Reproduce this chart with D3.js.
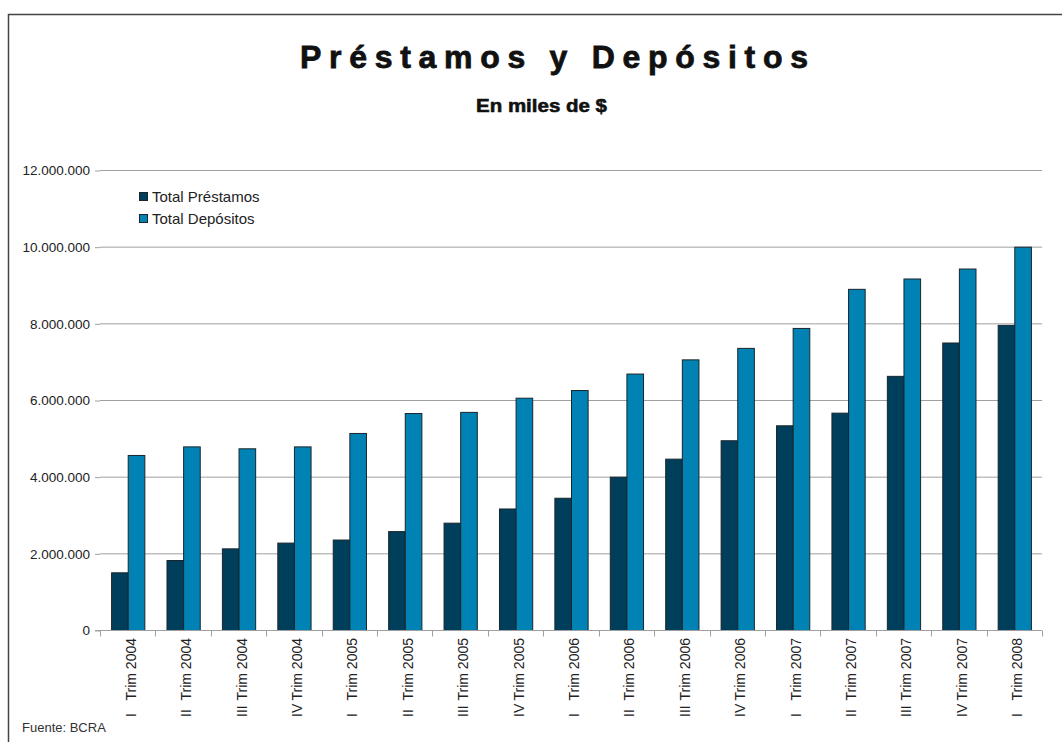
<!DOCTYPE html>
<html>
<head>
<meta charset="utf-8">
<script src="https://cdn.jsdelivr.net/npm/d3@7/dist/d3.min.js"></script>
<style>
  html, body { margin: 0; padding: 0; background: #fff; }
  svg { display: block; font-family: "Liberation Sans", Arial, sans-serif; }
</style>
</head>
<body>
<svg id="chart" width="1062" height="742"></svg>
<script>
const numerals = ["I", "II", "III", "IV", "I", "II", "III", "IV", "I", "II", "III", "IV", "I", "II", "III", "IV", "I"];
const years = ["2004", "2004", "2004", "2004", "2005", "2005", "2005", "2005", "2006", "2006", "2006", "2006", "2007", "2007", "2007", "2007", "2008"];
const categories = numerals.map((n, i) => n + " Trim " + years[i]);
const prestamos = [1505000, 1826000, 2130000, 2280000, 2360000, 2580000, 2800000, 3170000, 3450000, 4000000, 4470000, 4950000, 5340000, 5670000, 6630000, 7500000, 7960000];
const depositos = [4566000, 4790000, 4740000, 4790000, 5140000, 5660000, 5690000, 6060000, 6260000, 6690000, 7060000, 7360000, 7880000, 8900000, 9170000, 9430000, 10000000];
const seriesNames = ["Total Préstamos", "Total Depósitos"];
const seriesColors = ["#003f5b", "#0083b4"];
const yTicks = [0, 2000000, 4000000, 6000000, 8000000, 10000000, 12000000];

(function () {
const svg = d3.select("#chart");

// frame
svg.append("path").attr("d", "M8.5,742 L8.5,14.5 L1062,14.5")
  .attr("fill", "none").attr("stroke", "#444").attr("stroke-width", 1.5);

const pl = 100, pr = 1042, pt = 170, pb = 630;

const x = d3.scaleBand().domain(categories).range([pl, pr]).paddingInner(0.4).paddingOuter(0.2);
const xs = d3.scaleBand().domain(seriesNames).range([0, x.bandwidth()]);
const y = d3.scaleLinear().domain([0, 12000000]).range([pb, pt]);

const fmt = v => v === 0 ? "0" : d3.format(",")(v).replace(/,/g, ".");

// gridlines
svg.append("g").selectAll("line").data(yTicks.filter(d => d > 0)).join("line")
  .attr("x1", pl).attr("x2", pr)
  .attr("y1", d => y(d) + 0.5).attr("y2", d => y(d) + 0.5)
  .attr("stroke", "#a0a0a0").attr("stroke-width", 1);

// y axis
const yAxis = svg.append("g").attr("transform", `translate(${pl},0.5)`)
  .call(d3.axisLeft(y).tickValues(yTicks).tickFormat(fmt).tickSize(5).tickPadding(5));
yAxis.select(".domain").remove();
yAxis.selectAll(".tick line").attr("stroke", "#a0a0a0");
yAxis.selectAll(".tick text").attr("fill", "#222").style("font-size", "13.5px")
  .style("font-family", "'Liberation Sans', Arial, sans-serif");

// bars
const groups = svg.append("g").selectAll("g").data(categories).join("g")
  .attr("transform", d => `translate(${x(d)},0)`);
groups.selectAll("rect").data((d, i) => [prestamos[i], depositos[i]].map((v, k) => ({ v, k }))).join("rect")
  .attr("x", d => xs(seriesNames[d.k]) + 0.5)
  .attr("y", d => y(d.v) + 0.5)
  .attr("width", xs.bandwidth())
  .attr("height", d => y(0) - y(d.v))
  .attr("fill", d => seriesColors[d.k])
  .attr("stroke", "#1a252b").attr("stroke-width", 1);

// x axis
const xAxisG = svg.append("g").attr("transform", `translate(0,${pb + 0.5})`);
xAxisG.append("line").attr("x1", pl - 5).attr("x2", pr).attr("stroke", "#a0a0a0");
const bounds = categories.map(c => x(c) - x.step() * x.paddingInner() / 2).concat([pr]);
bounds[0] = pl;
xAxisG.selectAll("line.tk").data(bounds).join("line").attr("class", "tk")
  .attr("x1", d => Math.round(d) + 0.5).attr("x2", d => Math.round(d) + 0.5)
  .attr("y1", 0).attr("y2", 6).attr("stroke", "#a0a0a0");

// x labels (rotated)
const lab = svg.append("g").selectAll("text").data(categories).join("text")
  .attr("transform", d => `translate(${x(d) + x.bandwidth() / 2 + 8},${pb + 8}) rotate(-90)`)
  .attr("fill", "#222")
  .style("font-size", "14px");
lab.append("tspan").attr("x", -79).attr("text-anchor", "start").text((d, i) => numerals[i]);
lab.append("tspan").attr("x", 0).attr("text-anchor", "end").text((d, i) => " Trim " + years[i]);

// legend
const legend = svg.append("g").attr("transform", "translate(139,192)");
seriesNames.forEach((name, i) => {
  const g = legend.append("g").attr("transform", `translate(0,${i * 22})`);
  g.append("rect").attr("x", 0.5).attr("y", 0.5).attr("width", 8).attr("height", 8)
    .attr("fill", seriesColors[i]).attr("stroke", "#1a252b");
  g.append("text").attr("x", 13).attr("y", 9.5).attr("fill", "#222")
    .style("font-size", "15px").text(name);
});

// titles
svg.append("text").attr("x", 300).attr("y", 68)
  .attr("textLength", 508).attr("lengthAdjust", "spacing")
  .style("font-size", "32px").style("font-weight", "bold").attr("fill", "#111")
  .attr("stroke", "#111").attr("stroke-width", 0.8)
  .text("Préstamos y Depósitos");
svg.append("text").attr("x", 476).attr("y", 111.5)
  .attr("textLength", 131).attr("lengthAdjust", "spacingAndGlyphs")
  .style("font-size", "19px").style("font-weight", "bold").attr("fill", "#111")
  .attr("stroke", "#111").attr("stroke-width", 0.6)
  .text("En miles de $");

// source
svg.append("text").attr("x", 22).attr("y", 731.5).attr("fill", "#333")
  .style("font-size", "13px").text("Fuente: BCRA");
})();
</script>
</body>
</html>
